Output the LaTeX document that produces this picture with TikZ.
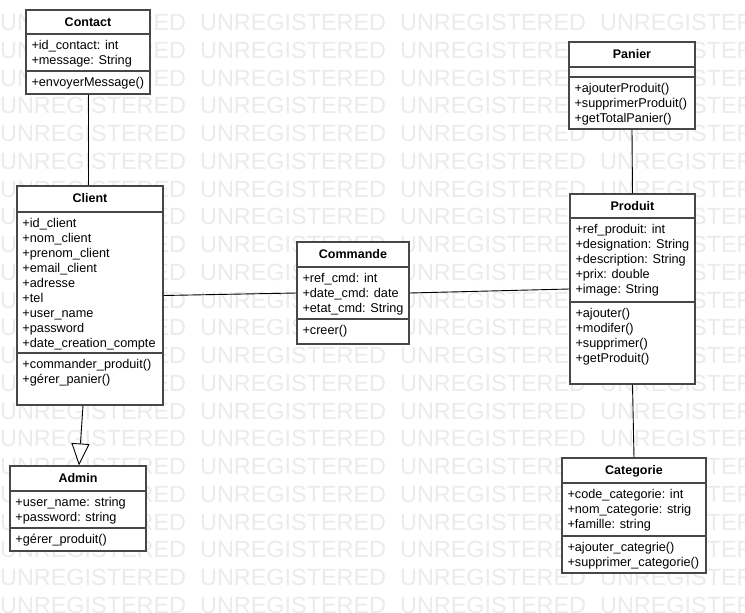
\documentclass[tikz,border=0pt]{standalone}
\usepackage{fontspec}
\setmainfont{Liberation Sans}
\usetikzlibrary{arrows.meta,fit}
\definecolor{wmcol}{gray}{0.92}
\definecolor{boxcol}{HTML}{474747}
\tikzset{
  classbox/.style={draw=boxcol, fill=white, line width=1.1pt, inner sep=0pt},
  sepline/.style={draw=boxcol, line width=1.1pt},
  member/.style={anchor=base west, inner sep=0pt, text=black, font=\fontsize{12.7}{15}\selectfont},
  ctitle/.style={anchor=base, inner sep=0pt, text=black, font=\bfseries\fontsize{12.5}{15}\selectfont},
  assoc/.style={draw=black, line width=0.9pt},
  gen/.style={draw=black, line width=0.9pt, -{Triangle[open, length=22pt, width=18pt, fill=white]}},
  wm/.style={anchor=base west, inner sep=0pt, text=wmcol, font=\fontsize{23.4}{24}\selectfont}
}
% name, left, top, right, titlesep, attrsep, bottom, title
\newcommand\umlbox[8]{%
  \node[classbox, fit={(#2,#3) (#4,#7)}] (#1) {};
  \draw[sepline] (#2,#5) -- (#4,#5);
  \draw[sepline] (#2,#6) -- (#4,#6);
  \node[ctitle] (#1-title) at ({(#2+#4)/2}, #3+16.9) {#8};
}
% name prefix, left, separator, list
\newcommand\umlmembers[4]{%
  \foreach \m [count=\i] in {#4} {
    \node[member] (#1\i) at (#2+5.3, {#3+0.4+15*\i}) {\m};
  }
}
\begin{document}
\begin{tikzpicture}[x=1pt,y=-1pt]
\useasboundingbox (0,0) rectangle (745,613);
\fill[white] (0,0) rectangle (745,613);
\begin{scope}
\clip (0,0) rectangle (745,613);
\foreach \k in {1,...,22} {
  \foreach \j in {0,1,2,3} {
    \node[wm] (wm-\k-\j) at ({200*\j}, {30.5+27.75*(\k-1)}) {UNREGISTERED};
  }
}
\end{scope}

% classes
\umlbox{contact}{26}{10}{150}{34}{71}{94}{Contact}
\umlmembers{contact-a}{26}{34}{+id\_contact: int, +message: String}
\umlmembers{contact-m}{26}{71}{+envoyerMessage()}

\umlbox{client}{17}{186}{163}{212}{353}{405}{Client}
\umlmembers{client-a}{17}{212}{+id\_client, +nom\_client, +prenom\_client, +email\_client, +adresse, +tel, +user\_name, +password, +date\_creation\_compte}
\umlmembers{client-m}{17}{353}{+commander\_produit(), +gérer\_panier()}

\umlbox{admin}{10}{466}{146}{491}{528}{551}{Admin}
\umlmembers{admin-a}{10}{491}{+user\_name: string, +password: string}
\umlmembers{admin-m}{10}{528}{+gérer\_produit()}

\umlbox{commande}{297}{242}{409}{267}{319}{344}{Commande}
\umlmembers{commande-a}{297}{267}{+ref\_cmd: int, +date\_cmd: date, +etat\_cmd: String}
\umlmembers{commande-m}{297}{319}{+creer()}

\umlbox{panier}{569}{42}{695}{67}{77}{129}{Panier}
\umlmembers{panier-m}{569}{77}{+ajouterProduit(), +supprimerProduit(), +getTotalPanier()}

\umlbox{produit}{570}{194}{695}{218}{302}{384}{Produit}
\umlmembers{produit-a}{570}{218}{+ref\_produit: int, +designation: String, +description: String, +prix: double, +image: String}
\umlmembers{produit-m}{570}{302}{+ajouter(), +modifer(), +supprimer(), +getProduit()}

\umlbox{categorie}{562}{458}{706}{483}{536}{573}{Categorie}
\umlmembers{categorie-a}{562}{483}{+code\_categorie: int, +nom\_categorie: strig, +famille: string}
\umlmembers{categorie-m}{562}{536}{+ajouter\_categrie(), +supprimer\_categorie()}

% connectors
\draw[assoc] (contact.south) -- (contact.south |- client.north);
\draw[assoc] (client.east) -- (commande.west);
\draw[assoc] (commande.east) -- (produit.west);
\draw[assoc] (panier.south) -- (produit.north);
\draw[assoc] (produit.south) -- (categorie.north);
\draw[gen] ([xshift=-7pt]client.south) -- ([xshift=1pt]admin.north);
\end{tikzpicture}
\end{document}
